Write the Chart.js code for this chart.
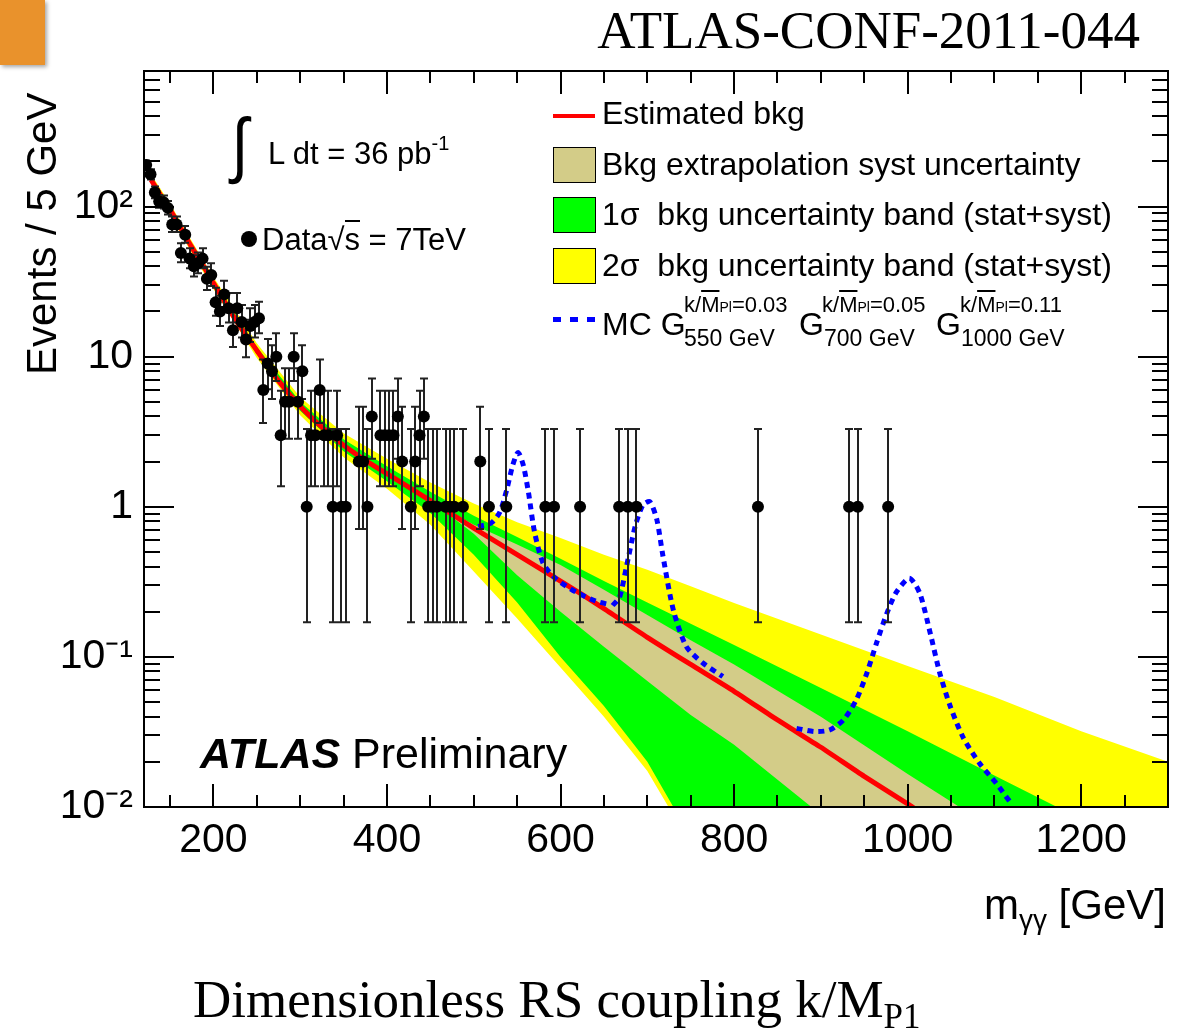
<!DOCTYPE html>
<html>
<head>
<meta charset="utf-8">
<title>ATLAS diphoton mass spectrum</title>
<script src="https://cdn.jsdelivr.net/npm/chart.js@4.4.1/dist/chart.umd.min.js"></script>
<style>
  body { margin: 0; background: #fff; }
  #wrap { position: relative; width: 1189px; height: 1028px; overflow: hidden; background: #fff; }
  #chart { position: absolute; left: 0; top: 0; }
  .t { position: absolute; white-space: nowrap; line-height: 1; color: #000;
       font-family: 'Liberation Sans', Arial, Helvetica, sans-serif; }
  .serif { font-family: 'Liberation Serif', 'Times New Roman', serif; }
  .box { position: absolute; left: 553px; width: 41px; height: 34px; border: 1px solid #000; }
  .ov { text-decoration: overline; }
</style>
</head>
<body>
<div id="wrap">
  <canvas id="chart" width="1189" height="1028"></canvas>

  <!-- slide decoration -->
  <div style="position:absolute;left:0;top:0;width:45px;height:65px;background:#e9922c;box-shadow:2px 2px 4px rgba(0,0,0,0.35);"></div>

  <div class="t serif" style="right:49px;top:4px;font-size:53px;">ATLAS-CONF-2011-044</div>

  <!-- y axis title -->
  <div class="t" style="left:21px;top:375px;font-size:42px;transform-origin:0 0;transform:rotate(-90deg);">Events / 5 GeV</div>
  <!-- x axis title -->
  <div class="t" style="right:23px;top:884px;font-size:42px;">m<span style="font-size:28px;position:relative;top:10px;">γγ</span> [GeV]</div>

  <!-- luminosity / data labels -->
  <div class="t" style="left:230px;top:108px;font-size:72px;transform:scaleX(0.85);">∫</div>
  <div class="t" style="left:268px;top:138px;font-size:31px;">L dt = 36 pb<span style="font-size:20px;position:relative;top:-14px;">-1</span></div>
  <div style="position:absolute;left:241px;top:231px;width:16px;height:16px;border-radius:50%;background:#000;"></div>
  <div class="t" style="left:262px;top:224px;font-size:31px;">Data√<span style="border-top:2px solid #000;">s</span> = 7TeV</div>

  <div class="t" style="left:200px;top:732px;font-size:43px;"><b><i>ATLAS</i></b> Preliminary</div>

  <!-- legend -->
  <div style="position:absolute;left:553px;top:114px;width:42px;height:4px;background:#ff0000;"></div>
  <div class="t" style="left:602px;top:97px;font-size:32px;">Estimated bkg</div>
  <div class="box" style="top:147px;background:rgb(211,204,136);"></div>
  <div class="t" style="left:602px;top:148px;font-size:32px;">Bkg extrapolation syst uncertainty</div>
  <div class="box" style="top:197px;background:#00ff00;"></div>
  <div class="t" style="left:602px;top:198px;font-size:32px;">1σ&nbsp; bkg uncertainty band (stat+syst)</div>
  <div class="box" style="top:248px;background:#ffff00;"></div>
  <div class="t" style="left:602px;top:249px;font-size:32px;">2σ&nbsp; bkg uncertainty band (stat+syst)</div>
  <div style="position:absolute;left:553px;top:317px;width:8px;height:5px;background:#0000ff;"></div>
  <div style="position:absolute;left:570px;top:317px;width:8px;height:5px;background:#0000ff;"></div>
  <div style="position:absolute;left:587px;top:317px;width:8px;height:5px;background:#0000ff;"></div>
  <div class="t" style="left:602px;top:308px;font-size:32px;">MC G</div>
  <div class="t" style="left:684px;top:294px;font-size:22px;">k/<span class="ov">M</span><span style="font-size:14px;">Pl</span>=0.03</div>
  <div class="t" style="left:684px;top:327px;font-size:23px;">550 GeV</div>
  <div class="t" style="left:799px;top:308px;font-size:32px;">G</div>
  <div class="t" style="left:822px;top:294px;font-size:22px;">k/<span class="ov">M</span><span style="font-size:14px;">Pl</span>=0.05</div>
  <div class="t" style="left:824px;top:327px;font-size:23px;">700 GeV</div>
  <div class="t" style="left:936px;top:308px;font-size:32px;">G</div>
  <div class="t" style="left:960px;top:294px;font-size:22px;">k/<span class="ov">M</span><span style="font-size:14px;">Pl</span>=0.11</div>
  <div class="t" style="left:961px;top:327px;font-size:23px;">1000 GeV</div>

  <div class="t serif" style="left:193px;top:973px;font-size:53px;">Dimensionless RS coupling k/M<span style="font-size:35px;position:relative;top:11px;">P1</span></div>
</div>

<script>
// ---- data ----
// observed events per 5 GeV bin (bin centres in GeV)
const dataMass = [122.5, 127.5, 132.5, 137.5, 142.5, 147.5, 152.5, 157.5, 162.5, 167.5,
                  172.5, 177.5, 182.5, 187.5, 192.5, 197.5, 202.5, 207.5, 212.5, 217.5,
                  222.5, 227.5, 232.5, 237.5, 242.5, 247.5, 252.5, 257.5, 262.5, 267.5,
                  272.5, 277.5, 282.5, 287.5, 292.5, 297.5, 302.5, 307.5, 312.5, 317.5,
                  322.5, 327.5, 332.5, 337.5, 342.5, 347.5, 352.5, 367.5, 372.5, 377.5,
                  382.5, 392.5, 397.5, 402.5, 407.5, 412.5, 417.5, 427.5, 432.5, 437.5,
                  442.5, 447.5, 452.5, 457.5, 467.5, 472.5, 477.5, 487.5, 507.5, 517.5,
                  537.5, 582.5, 592.5, 622.5, 667.5, 677.5, 687.5, 827.5, 932.5, 942.5, 977.5];
const dataCount = [189, 164, 124, 108, 107, 98, 76, 76, 49, 65,
                   45, 40, 42, 45, 33, 35, 23, 20, 26, 21,
                   15, 21, 17, 13, 16, 17, 18, 6, 9, 8,
                   10, 3, 5, 5, 10, 5, 8, 1, 3, 3,
                   6, 3, 3, 1, 3, 1, 1, 2, 2, 1,
                   4, 3, 3, 3, 3, 4, 2, 1, 2, 3,
                   4, 1, 1, 1, 1, 1, 1, 1, 2, 1,
                   1, 1, 1, 1, 1, 1, 1, 1, 1, 1, 1];
// error bar ends (low, high) as drawn for each observed count
const countErrors = {
  1: [0.17, 3.3], 2: [0.71, 4.64], 3: [1.37, 5.92], 4: [2.09, 7.16], 5: [2.84, 8.38],
  6: [3.62, 9.58], 8: [5.23, 11.9], 9: [6.06, 13.1], 10: [6.89, 14.3], 13: [9.9, 17.6],
  15: [11.6, 19.9], 16: [12.5, 21.0], 17: [13.4, 22.1], 18: [14.3, 23.2], 20: [16.0, 25.5],
  21: [16.9, 26.6], 23: [18.7, 28.8], 26: [21.4, 32.1], 33: [27.8, 39.7], 35: [29.6, 41.9],
  40: [34.2, 47.3], 42: [36.0, 49.5], 45: [38.8, 52.7], 49: [42.5, 57.0], 65: [57.4, 74.1],
  76: [67.8, 85.7], 98: [88.6, 108.9], 107: [97.2, 118.3], 108: [98.1, 119.4],
  124: [113.4, 136.1], 164: [151.7, 177.3], 189: [175.7, 202.7]
};

// estimated background
const bkgMass = [128, 140, 150, 160, 175, 190, 200, 225, 250, 275, 300, 325, 350, 375, 400,
                 450, 500, 550, 600, 650, 700, 750, 800, 850, 900, 950, 1000, 1010];
const bkgValue = [151, 117, 95.5, 76, 53.7, 38.9, 30.9, 17.8, 11.0, 6.9, 4.68, 3.39, 2.57, 2.04, 1.66,
                  1.10, 0.72, 0.48, 0.32, 0.21, 0.135, 0.089, 0.059, 0.038, 0.025, 0.016, 0.0105, 0.0096];

// uncertainty bands (upper / lower edges)
const bandMass = [130, 150, 175, 200, 250, 300, 350, 400, 450, 500, 550, 600, 650, 700, 750, 800,
                  900, 1000, 1100, 1200, 1300];
const yellowUp = [158, 105, 59, 33.9, 12.3, 5.37, 3.09, 2.09, 1.45, 1.05, 0.79, 0.62, 0.48, 0.38,
                  0.295, 0.229, 0.141, 0.087, 0.054, 0.032, 0.020];
const yellowLow = [132, 87, 49, 28.2, 9.8, 4.07, 2.14, 1.32, 0.76, 0.37, 0.18, 0.085, 0.040, 0.0174,
                   0.0056, 0.0013, 0.00025, 0.0001, 0.0001, 0.0001, 0.0001];
const greenUp = [151, 100, 56, 32.4, 11.6, 5.01, 2.82, 1.86, 1.26, 0.87, 0.63, 0.45, 0.32, 0.23,
                 0.166, 0.120, 0.062, 0.032, 0.0162, 0.0083, 0.0043];
const greenLow = [138, 91, 51, 29.5, 10.4, 4.37, 2.34, 1.48, 0.91, 0.48, 0.23, 0.10, 0.047, 0.020,
                  0.0063, 0.0016, 0.0003, 0.0001, 0.0001, 0.0001, 0.0001];
const extrapUp = [145, 95.5, 53.7, 30.9, 11.0, 4.68, 2.57, 1.66, 1.10, 0.76, 0.56, 0.41, 0.28, 0.19,
                  0.129, 0.089, 0.040, 0.0166, 0.0071, 0.0032, 0.0014];
const extrapLow = [145, 95.5, 53.7, 30.9, 11.0, 4.68, 2.57, 1.66, 1.10, 0.66, 0.35, 0.20, 0.117, 0.069,
                   0.041, 0.026, 0.0089, 0.0032, 0.0011, 0.0004, 0.00016];

// MC graviton signals (on top of background)
const g550Mass = [505, 520, 530, 538, 545, 551, 557, 563, 570, 580, 595, 618, 641, 658];
const g550Value = [0.74, 0.78, 0.92, 1.3, 1.9, 2.3, 1.9, 1.25, 0.68, 0.42, 0.33, 0.27, 0.235, 0.222];
const g700Mass = [660, 668, 676, 686, 695, 703, 711, 718, 730, 745, 764, 787];
const g700Value = [0.22, 0.25, 0.40, 0.74, 1.03, 1.08, 0.82, 0.47, 0.205, 0.117, 0.091, 0.074];
const g1000Mass = [872, 893, 910, 926, 941, 953, 964, 976, 987, 1002, 1014, 1026, 1037, 1049,
                   1064, 1083, 1102, 1118];
const g1000Value = [0.0334, 0.0318, 0.0326, 0.038, 0.052, 0.078, 0.123, 0.195, 0.27, 0.334, 0.265,
                    0.144, 0.078, 0.047, 0.029, 0.0195, 0.0144, 0.0108];

// axes
const xMajorTicks = [200, 400, 600, 800, 1000, 1200];
const xTickLabels = ['200', '400', '600', '800', '1000', '1200'];
const xMinorTicks = [150, 250, 300, 350, 450, 500, 550, 650, 700, 750, 850, 900, 950, 1050, 1100, 1150, 1250];
const yTickValues = [0.01, 0.1, 1, 10, 100];
const yTickLabels = ['10⁻²', '10⁻¹', '1', '10', '10²'];
const yMinorSteps = [2, 3, 4, 5, 6, 7, 8, 9];

const KHAKI = 'rgb(211,204,136)';

function pts(xs, ys) {
    return xs.map((x, i) => ({ x: x, y: ys[i] }));
}

function bandEdge(xs, ys, color, fill, order) {
    return {
        data: pts(xs, ys),
        borderColor: 'rgba(0,0,0,0)',
        borderWidth: 0,
        backgroundColor: color,
        pointRadius: 0,
        fill: fill,
        order: order
    };
}

function signal(xs, ys) {
    return {
        data: pts(xs, ys),
        borderColor: '#0000ff',
        borderWidth: 5,
        borderDash: [6, 5],
        borderCapStyle: 'butt',
        pointRadius: 0,
        tension: 0.25,
        fill: false,
        order: 1
    };
}

// error bars under the data markers, drawn through the chart scales
const errorBarPlugin = {
    id: 'errorBars',
    beforeDatasetDraw(chart, args) {
        if (args.index !== 0) return;
        const { ctx, chartArea: a, scales: { x, y } } = chart;
        ctx.save();
        ctx.beginPath();
        ctx.rect(a.left, a.top, a.right - a.left, a.bottom - a.top);
        ctx.clip();
        ctx.strokeStyle = '#222';
        ctx.lineWidth = 2;
        ctx.beginPath();
        dataMass.forEach((m, i) => {
            const [lo, hi] = countErrors[dataCount[i]];
            const px = Math.round(x.getPixelForValue(m));
            const yl = y.getPixelForValue(lo);
            const yh = y.getPixelForValue(hi);
            ctx.moveTo(px, yl); ctx.lineTo(px, yh);
            ctx.moveTo(px - 4, yl); ctx.lineTo(px + 4, yl);
            ctx.moveTo(px - 4, yh); ctx.lineTo(px + 4, yh);
        });
        ctx.stroke();
        ctx.restore();
    }
};

// ROOT style frame with inward ticks on all four sides
const framePlugin = {
    id: 'frameTicks',
    afterDraw(chart) {
        const { ctx, chartArea: a, scales: { x, y } } = chart;
        ctx.save();
        ctx.strokeStyle = '#000';
        ctx.lineWidth = 2;
        ctx.beginPath();
        const xTick = (v, len) => {
            const p = Math.round(x.getPixelForValue(v));
            ctx.moveTo(p, a.bottom); ctx.lineTo(p, a.bottom - len);
            ctx.moveTo(p, a.top); ctx.lineTo(p, a.top + len);
        };
        const yTick = (v, len) => {
            const p = Math.round(y.getPixelForValue(v));
            ctx.moveTo(a.left, p); ctx.lineTo(a.left + len, p);
            ctx.moveTo(a.right, p); ctx.lineTo(a.right - len, p);
        };
        xMajorTicks.forEach(v => xTick(v, 23));
        xMinorTicks.forEach(v => xTick(v, 12));
        yTickValues.forEach(v => yTick(v, 30));
        yTickValues.forEach(d => yMinorSteps.forEach(k => {
            const v = d * k;
            if (v < 800) yTick(v, 16);
        }));
        ctx.stroke();
        ctx.strokeRect(a.left, a.top, a.right - a.left, a.bottom - a.top);
        ctx.restore();
    }
};

Chart.defaults.font.family = "'Liberation Sans', Arial, Helvetica, sans-serif";
Chart.defaults.color = '#000';

new Chart(document.getElementById('chart'), {
    type: 'line',
    data: {
        datasets: [
            {
                data: pts(dataMass, dataCount),
                showLine: false,
                pointRadius: 6,
                pointBackgroundColor: '#000',
                pointBorderColor: '#000',
                pointBorderWidth: 0,
                order: 0
            },
            signal(g550Mass, g550Value),
            signal(g700Mass, g700Value),
            signal(g1000Mass, g1000Value),
            {
                data: pts(bkgMass, bkgValue),
                borderColor: '#ff0000',
                borderWidth: 5,
                pointRadius: 0,
                tension: 0.2,
                fill: false,
                order: 2
            },
            bandEdge(bandMass, extrapUp, KHAKI, '+1', 3),
            bandEdge(bandMass, extrapLow, KHAKI, false, 3),
            bandEdge(bandMass, greenUp, '#00ff00', '+1', 4),
            bandEdge(bandMass, greenLow, '#00ff00', false, 4),
            bandEdge(bandMass, yellowUp, '#ffff00', '+1', 5),
            bandEdge(bandMass, yellowLow, '#ffff00', false, 5)
        ]
    },
    options: {
        responsive: false,
        animation: false,
        events: [],
        layout: { padding: { left: 0, top: 71, right: 21, bottom: 0 } },
        plugins: {
            legend: { display: false },
            tooltip: { enabled: false },
            filler: { propagate: false }
        },
        scales: {
            x: {
                type: 'linear',
                min: 120,
                max: 1300,
                afterBuildTicks: s => { s.ticks = xMajorTicks.map(v => ({ value: v })); },
                afterFit: s => { s.height = 221; },
                grid: { display: false, drawTicks: false },
                border: { display: false },
                ticks: {
                    font: { size: 41 },
                    color: '#000',
                    padding: 9,
                    maxRotation: 0,
                    autoSkip: false,
                    callback: (value, index) => xTickLabels[index]
                }
            },
            y: {
                type: 'logarithmic',
                min: 0.01,
                max: 800,
                afterBuildTicks: s => { s.ticks = yTickValues.map(v => ({ value: v })); },
                afterFit: s => { s.width = 144; },
                grid: { display: false, drawTicks: false },
                border: { display: false },
                ticks: {
                    font: { size: 41 },
                    color: '#000',
                    padding: 11,
                    autoSkip: false,
                    callback: (value, index) => yTickLabels[index]
                }
            }
        }
    },
    plugins: [errorBarPlugin, framePlugin]
});
</script>
</body>
</html>
